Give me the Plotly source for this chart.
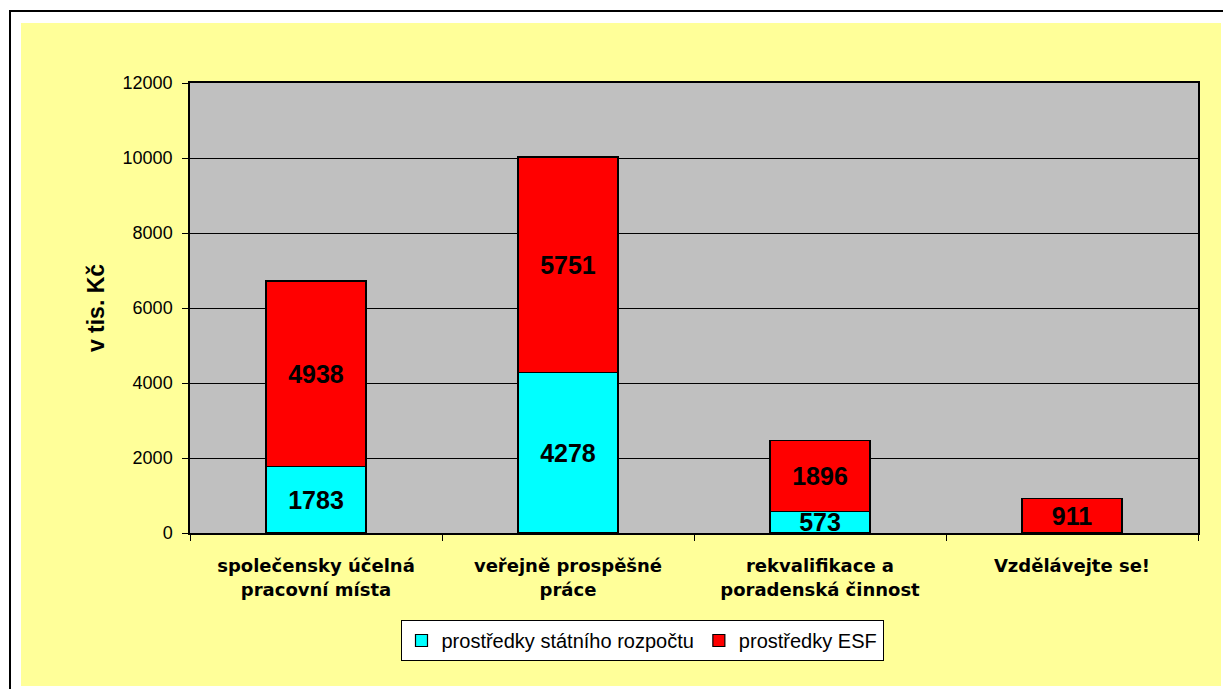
import plotly.graph_objects as go

# Data (thousands of CZK)
categories = [
    "společensky účelná<br>pracovní místa",
    "veřejně prospěšné<br>práce",
    "rekvalifikace a<br>poradenská činnost",
    "Vzdělávejte se!",
]
state_budget = [1783, 4278, 573, None]
esf_funds = [4938, 5751, 1896, 911]
series_names = ["prostředky státního rozpočtu", "prostředky ESF"]
y_ticks = [0, 2000, 4000, 6000, 8000, 10000, 12000]

W, H = 1223, 689
L, R, T, B = 190, 25, 83, 156
pw, ph = W - L - R, H - T - B


def px(x):
    return (x - L) / pw


def py(y):
    return (H - B - y) / ph


FONT = "Liberation Sans, Arial, sans-serif"
WIDE = "DejaVu Sans, sans-serif"

fig = go.Figure()
fig.add_bar(
    x=categories, y=state_budget, name=series_names[0],
    marker=dict(color="#00FFFF", line=dict(color="black", width=1.2)),
    text=[v if v is not None else "" for v in state_budget],
    textposition="inside", insidetextanchor="middle", constraintext="none",
    textfont=dict(family=FONT, size=25, color="black", weight="bold"),
    cliponaxis=False,
)
fig.add_bar(
    x=categories, y=esf_funds, name=series_names[1],
    marker=dict(color="#FF0000", line=dict(color="black", width=1.2)),
    text=esf_funds,
    textposition="inside", insidetextanchor="middle", constraintext="none",
    textfont=dict(family=FONT, size=25, color="black", weight="bold"),
    cliponaxis=False,
)

shapes = [
    # outer frame
    dict(type="rect", xref="paper", yref="paper",
         x0=px(10), x1=px(1240), y0=py(11), y1=py(710),
         line=dict(color="black", width=2), fillcolor="white", layer="below"),
    # chart area
    dict(type="rect", xref="paper", yref="paper",
         x0=px(21), x1=px(1221), y0=py(23), y1=py(686),
         line=dict(width=0), fillcolor="#FFFF99", layer="below"),
    # plot area
    dict(type="rect", xref="paper", yref="paper",
         x0=0, x1=1, y0=0, y1=1,
         line=dict(width=0), fillcolor="#C0C0C0", layer="below"),
]

fig.update_layout(
    width=W, height=H,
    margin=dict(l=L, r=R, t=T, b=B),
    paper_bgcolor="white",
    plot_bgcolor="#C0C0C0",
    barmode="stack",
    bargap=0.603,
    shapes=shapes,
    font=dict(family=FONT, color="black"),
    showlegend=True,
    legend=dict(
        orientation="h", x=px(642), xanchor="center", y=py(620), yanchor="top",
        bgcolor="white", bordercolor="black", borderwidth=1,
        font=dict(size=20, family=FONT), itemwidth=30,
        traceorder="normal",
    ),
)
fig.update_xaxes(
    type="category",
    tickfont=dict(size=18, family=WIDE, weight="bold"),
    ticklabelstandoff=16,
    showline=True, linecolor="black", linewidth=1.5, mirror=True,
    ticks="outside", tickson="boundaries", ticklen=6, tickcolor="black",
    showgrid=False,
)
fig.update_yaxes(
    range=[0, 12000], tickvals=y_ticks, tickformat="d",
    tickfont=dict(size=18, family=FONT),
    ticklabelstandoff=6,
    title=dict(text="v tis. Kč", font=dict(size=23, family=FONT, weight="bold"), standoff=12),
    showline=True, linecolor="black", linewidth=1.5, mirror=True,
    ticks="outside", ticklen=6, tickcolor="black",
    showgrid=True, gridcolor="black", gridwidth=1,
    zeroline=False,
)

fig.write_html("out.html")
